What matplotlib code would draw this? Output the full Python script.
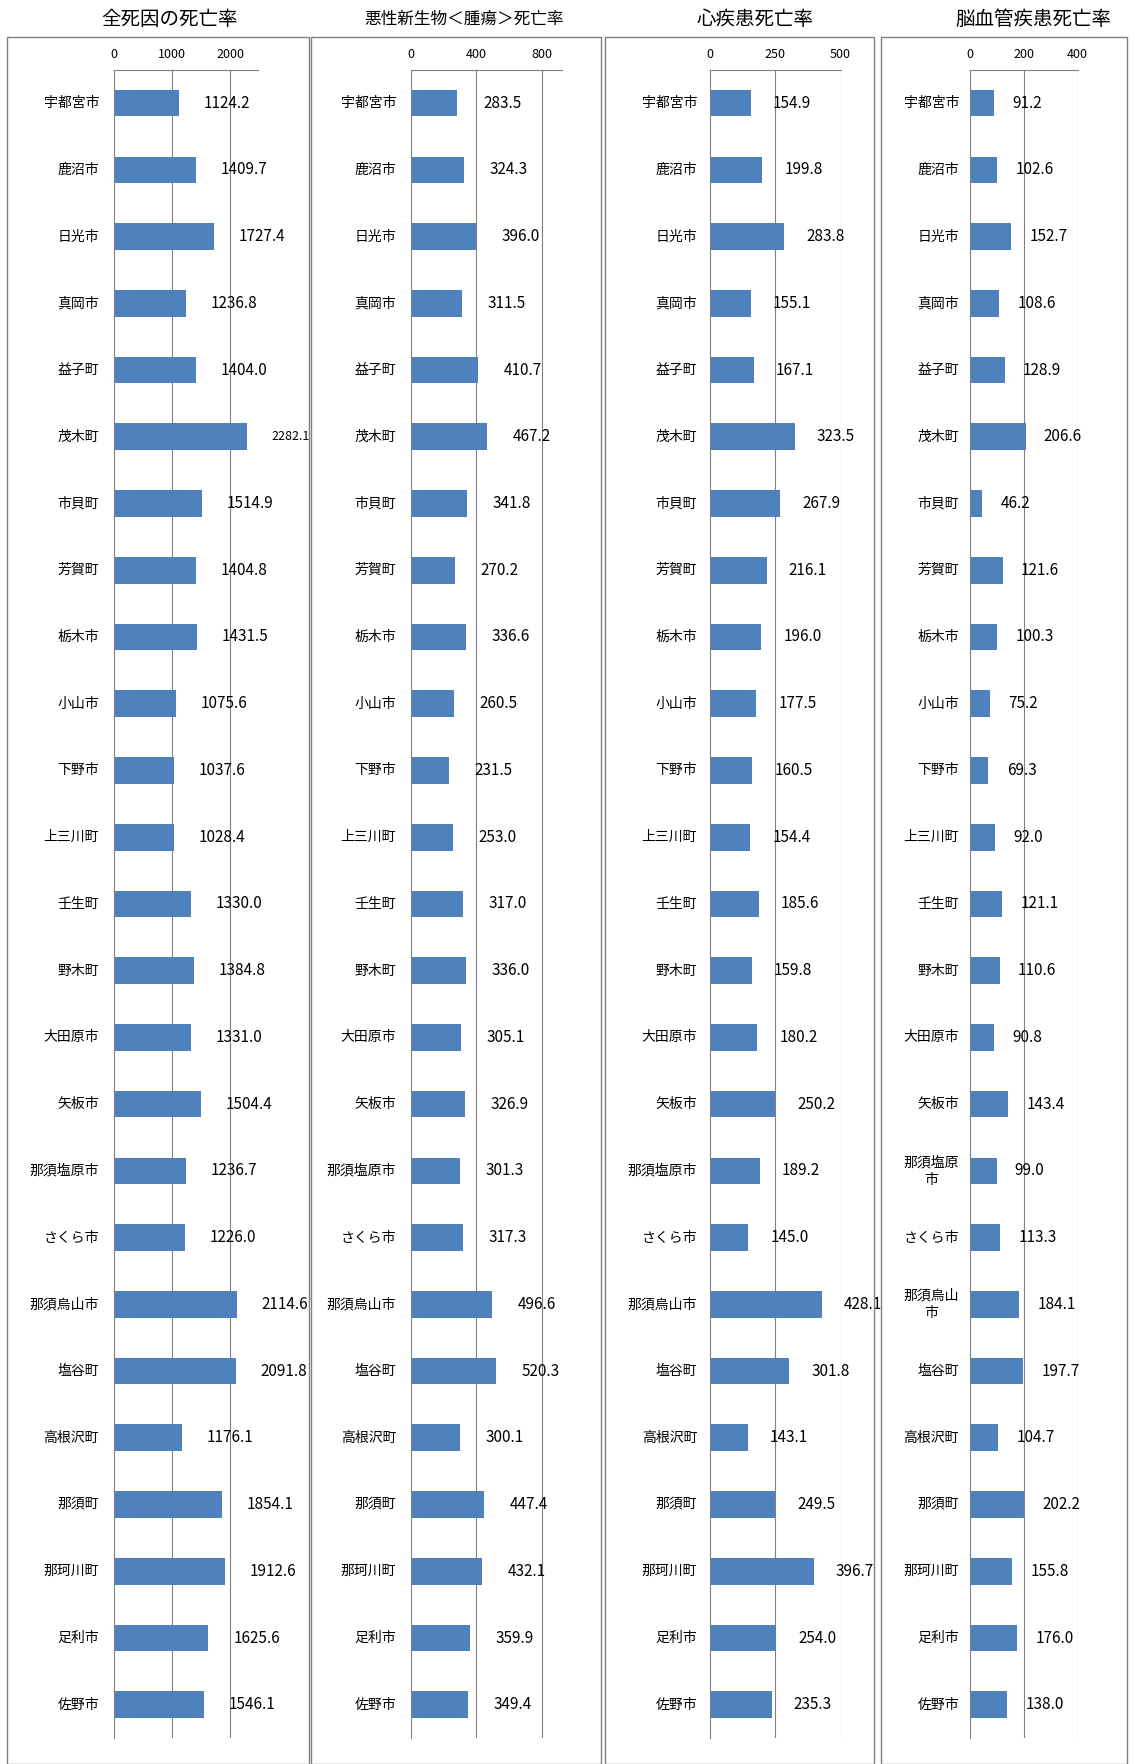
import matplotlib.pyplot as plt
from matplotlib.patches import Rectangle

plt.rcParams['font.family'] = ['Noto Sans CJK JP', 'DejaVu Sans']

cities = ["宇都宮市", "鹿沼市", "日光市", "真岡市", "益子町", "茂木町", "市貝町", "芳賀町",
          "栃木市", "小山市", "下野市", "上三川町", "壬生町", "野木町", "大田原市", "矢板市",
          "那須塩原市", "さくら市", "那須烏山市", "塩谷町", "高根沢町", "那須町", "那珂川町",
          "足利市", "佐野市"]
all_causes = [1124.2, 1409.7, 1727.4, 1236.8, 1404.0, 2282.1, 1514.9, 1404.8, 1431.5, 1075.6,
              1037.6, 1028.4, 1330.0, 1384.8, 1331.0, 1504.4, 1236.7, 1226.0, 2114.6, 2091.8,
              1176.1, 1854.1, 1912.6, 1625.6, 1546.1]
cancer = [283.5, 324.3, 396.0, 311.5, 410.7, 467.2, 341.8, 270.2, 336.6, 260.5, 231.5, 253.0,
          317.0, 336.0, 305.1, 326.9, 301.3, 317.3, 496.6, 520.3, 300.1, 447.4, 432.1, 359.9, 349.4]
heart = [154.9, 199.8, 283.8, 155.1, 167.1, 323.5, 267.9, 216.1, 196.0, 177.5, 160.5, 154.4,
         185.6, 159.8, 180.2, 250.2, 189.2, 145.0, 428.1, 301.8, 143.1, 249.5, 396.7, 254.0, 235.3]
stroke = [91.2, 102.6, 152.7, 108.6, 128.9, 206.6, 46.2, 121.6, 100.3, 75.2, 69.3, 92.0, 121.1,
          110.6, 90.8, 143.4, 99.0, 113.3, 184.1, 197.7, 104.7, 202.2, 155.8, 176.0, 138.0]

titles = ["全死因の死亡率", "悪性新生物＜腫瘍＞死亡率", "心疾患死亡率", "脳血管疾患死亡率"]
series = [all_causes, cancer, heart, stroke]
ticks = [[0, 1000, 2000], [0, 400, 800], [0, 250, 500], [0, 200, 400]]
xmax = [2481, 924, 500, 400]
# layout in reference pixel space (1010 x 1568)
boxes = [(6, 275), (277, 535), (538, 778), (784, 1003)]
axes_x = [(101, 230), (366, 500), (632, 748), (863, 959)]
title_x = [151, 413, 672, 920]
title_size = [14, 12, 14, 14]
W, H = 1010.0, 1568.0

fig = plt.figure(figsize=(11.35, 17.64), dpi=100)
for k in range(4):
    bx0, bx1 = boxes[k]
    fig.patches.append(Rectangle((bx0 / W, 0), (bx1 - bx0) / W, 1 - 33 / H,
                                 transform=fig.transFigure, fill=False, ec='#808080', lw=1))
    fig.text(title_x[k] / W, 1 - 17 / H, titles[k], ha='center', va='center',
             fontsize=title_size[k])
    a0, a1 = axes_x[k]
    ax = fig.add_axes([a0 / W, 1 - 1545 / H, (a1 - a0) / W, (1545 - 62) / H])
    vals = series[k]
    ax.barh(range(len(cities)), vals, height=0.4, color='#4F81BD')
    ax.set_ylim(24.5, -0.5)
    ax.set_xlim(0, xmax[k])
    ax.set_xticks(ticks[k])
    ax.xaxis.tick_top()
    ax.tick_params(axis='x', labelsize=9, length=0, pad=6)
    ax.set_yticks([])
    for t in ticks[k][1:]:
        ax.axvline(t, color='#808080', lw=0.8, zorder=0)
    for s in ['right', 'bottom']:
        ax.spines[s].set_visible(False)
    ax.spines['top'].set_color('#808080')
    ax.spines['left'].set_color('#808080')
    off = xmax[k] * 0.17
    for i, v in enumerate(vals):
        fs = 9 if (k == 0 and v > 2200) else 11
        ax.text(v + off, i, f"{v:.1f}", va='center', ha='left', fontsize=fs)
        name = cities[i]
        if k == 3 and len(name) == 5:
            name = name[:4] + "\n" + name[4]
        ax.text(-xmax[k] * 0.1, i, name, va='center', ha='right', fontsize=10,
                linespacing=1.3, multialignment='center')

fig.savefig('out.png', dpi=100)
